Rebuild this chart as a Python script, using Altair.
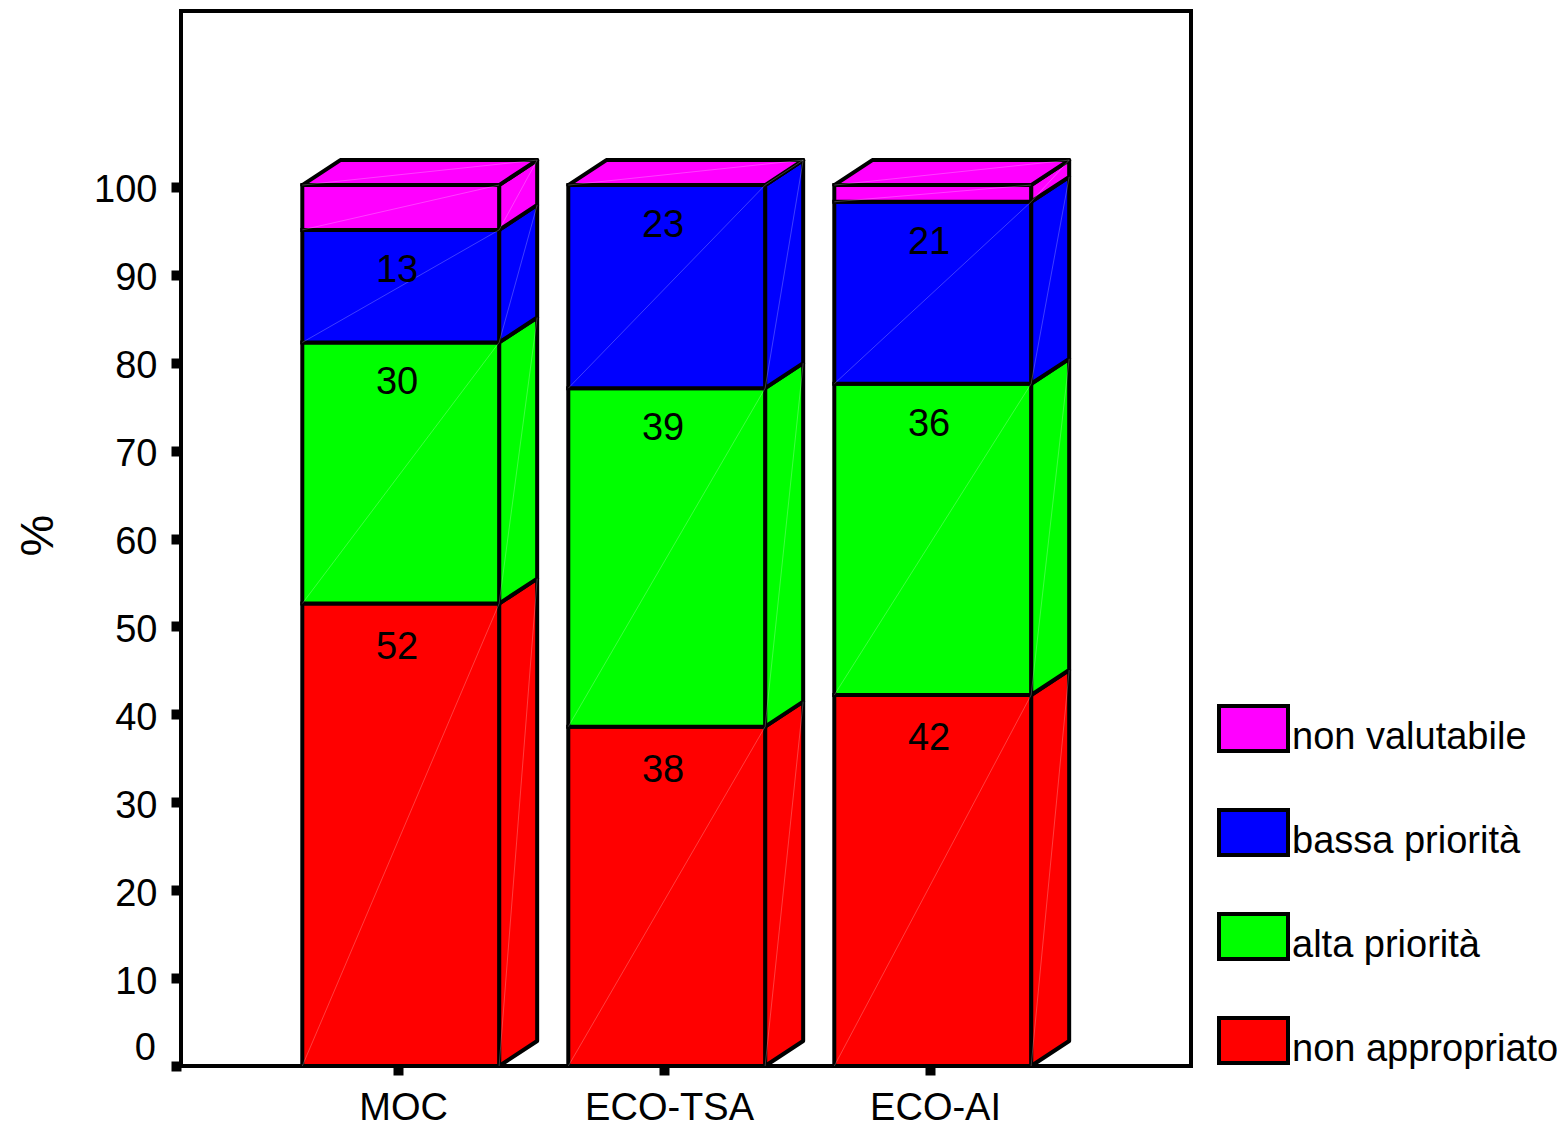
import altair as alt
import pandas as pd

categories = ["MOC", "ECO-TSA", "ECO-AI"]
positions = [1, 2, 3]
series = ["non appropriato", "alta priorità", "bassa priorità", "non valutabile"]
colors = ["#ff0000", "#00ff00", "#0000ff", "#ff00ff"]

non_appropriato = [52.6, 38.6, 42.2]
alta_priorita = [29.7, 38.5, 35.4]
bassa_priorita = [12.8, 23.1, 20.7]
non_valutabile = [5.1, 0.0, 1.9]
value_labels = [
    ["52", "38", "42"],
    ["30", "39", "36"],
    ["13", "23", "21"],
    ["", "", ""],
]
y_ticks = [0, 10, 20, 30, 40, 50, 60, 70, 80, 90, 100]

BAR_W = 0.74
BAR_SHIFT = 0.36
DX = 0.143
DY = 2.84
LABEL_DROP = [5.0, 4.65, 4.65, 0.0]
X_DOMAIN = [0.184, 3.981]
Y_DOMAIN = [0, 120]
FONT = "Liberation Sans"
FS = 38
SW = 4

values = [non_appropriato, alta_priorita, bassa_priorita, non_valutabile]
front, side, top, seams, labels = [], [], [], [], []
for b, (cat, p) in enumerate(zip(categories, positions)):
    xl = p - BAR_SHIFT
    xr = xl + BAR_W
    lo = 0.0
    for s, name in enumerate(series):
        hi = lo + values[s][b]
        fid = f"{cat}-{s}"
        front.append(dict(xl=xl, xr=xr, lo=lo, hi=hi, serie=name))
        side.append(dict(f=fid, x=xr, a=lo, b=hi, serie=name))
        side.append(dict(f=fid, x=xr + DX, a=lo + DY, b=hi + DY, serie=name))
        if hi > lo:
            seams.append(dict(x=xl, x2=xr, y=lo, y2=hi))
        seams.append(dict(x=xr, x2=xr + DX, y=lo, y2=hi + DY))
        if value_labels[s][b]:
            labels.append(dict(x=p, y=hi - LABEL_DROP[s], t=value_labels[s][b]))
        lo = hi
    fid = f"{cat}-top"
    name = series[-1]
    for x, a, c in [(xl, lo, lo), (xl + DX, lo, lo + DY), (xr, lo, lo + DY), (xr + DX, lo + DY, lo + DY)]:
        top.append(dict(f=fid, x=x, a=a, b=c, serie=name))
    seams.append(dict(x=xl, x2=xr + DX, y=lo, y2=lo + DY))

xs = alt.Scale(domain=X_DOMAIN, nice=False, zero=False)
ys = alt.Scale(domain=Y_DOMAIN, nice=False)
cs = alt.Scale(domain=series[::-1], range=colors[::-1])

label_map = "[" + ",".join(f"'{c}'" for c in categories) + "]"

x_axis = alt.Axis(
    values=positions, labelExpr=f"{label_map}[datum.value-1]", title=None, grid=False, domain=False,
    tickSize=9, tickWidth=10, tickColor="black", labelFont=FONT, labelFontSize=FS, labelColor="black",
    labelPadding=14, labelOffset=5, labelAngle=0, labelFlush=False, labelOverlap=False,
)
y_axis = alt.Axis(
    values=y_ticks, labelExpr="datum.value==0?'':datum.label", title="%", grid=False, domain=False,
    tickSize=10, tickWidth=10, tickColor="black", labelFont=FONT, labelFontSize=FS, labelColor="black",
    labelPadding=14, labelOffset=4, labelOverlap=False, labelFlush=False,
    titleFont=FONT, titleFontSize=47, titleFontWeight="normal", titleColor="black", titlePadding=31,
    titleY=524,
)

legend = alt.Legend(
    title=None, orient="none", legendX=1036, legendY=690,
    symbolType="M-1,-0.91H1V0.39H-1Z", symbolSize=4761, symbolStrokeColor="black", symbolStrokeWidth=SW,
    symbolOpacity=1, labelFont=FONT, labelFontSize=FS, labelColor="black", labelOffset=2, rowPadding=43,
    labelLimit=400, padding=0,
)

color = alt.Color("serie:N", scale=cs, legend=legend)

sides = alt.Chart(pd.DataFrame(side)).mark_area(
    orient="vertical", stroke="black", strokeWidth=SW, strokeJoin="round", opacity=1
).encode(
    x=alt.X("x:Q", scale=xs, axis=x_axis), y=alt.Y("a:Q", scale=ys, axis=y_axis, stack=None), y2="b:Q",
    color=color, detail="f:N",
)
tops = alt.Chart(pd.DataFrame(top)).mark_area(
    orient="vertical", stroke="black", strokeWidth=SW, strokeJoin="round", opacity=1
).encode(
    x=alt.X("x:Q", scale=xs), y=alt.Y("a:Q", scale=ys, stack=None), y2="b:Q", color=color, detail="f:N",
)
fronts = alt.Chart(pd.DataFrame(front)).mark_rect(stroke="black", strokeWidth=SW, opacity=1).encode(
    x=alt.X("xl:Q", scale=xs), x2="xr:Q", y=alt.Y("lo:Q", scale=ys), y2="hi:Q", color=color,
)
seam_lines = alt.Chart(pd.DataFrame(seams)).mark_rule(color="white", strokeWidth=0.7, opacity=0.35).encode(
    x=alt.X("x:Q", scale=xs), x2="x2:Q", y=alt.Y("y:Q", scale=ys), y2="y2:Q",
)
texts = alt.Chart(pd.DataFrame(labels)).mark_text(
    font=FONT, fontSize=FS, color="black", baseline="middle", align="center", dx=-1
).encode(x=alt.X("x:Q", scale=xs), y=alt.Y("y:Q", scale=ys), text="t:N")
zero_label = alt.Chart(pd.DataFrame({"v": [y_ticks[0]]})).mark_text(
    font=FONT, fontSize=FS, color="black", baseline="middle", align="right", dx=-25, dy=-17
).encode(x=alt.datum(X_DOMAIN[0], scale=xs), y=alt.Y("v:Q", scale=ys), text="v:N")

chart = (
    alt.layer(sides, tops, fronts, seam_lines, texts, zero_label)
    .properties(
        width=1010, height=1055,
        autosize=alt.AutoSizeParams(type="none"),
        padding={"left": 173, "top": 3, "right": 366, "bottom": 59},
        background="white",
    )
    .configure_view(stroke="black", strokeWidth=SW)
)
chart.save("out.html", embed_options={"renderer": "svg", "actions": False})
